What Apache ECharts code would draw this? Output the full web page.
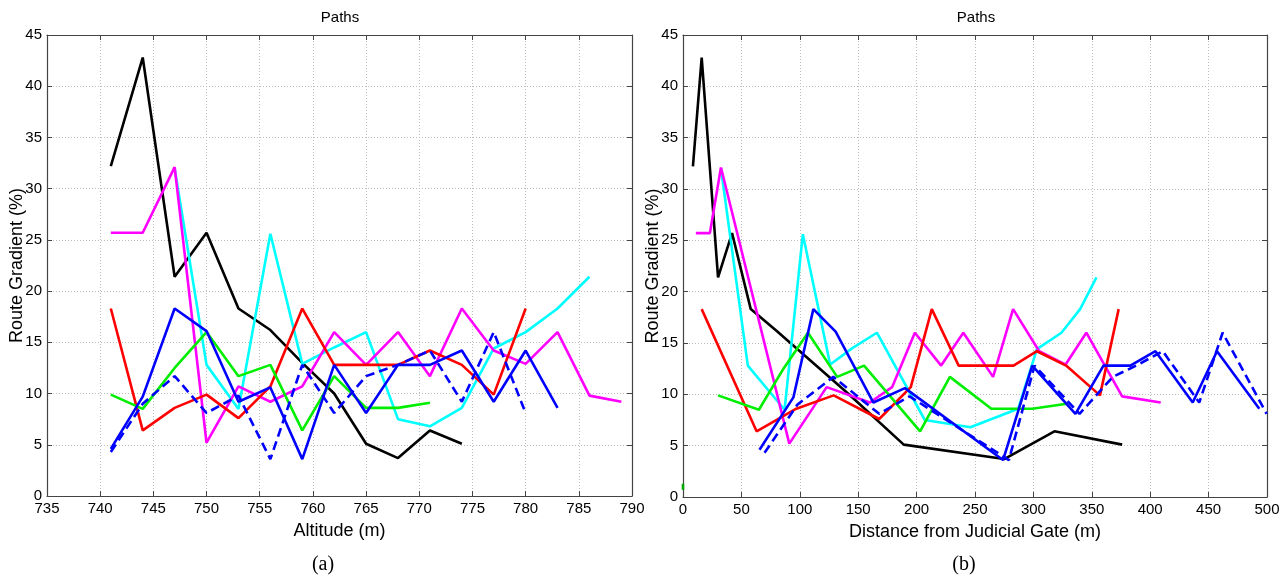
<!DOCTYPE html>
<html><head><meta charset="utf-8">
<script src="https://cdn.jsdelivr.net/npm/echarts@6/dist/echarts.min.js"></script>
<style>html,body{margin:0;padding:0;background:#fff}#c{width:1283px;height:579px}</style>
</head><body><div id="c"></div>
<script>
// ---- data ----
const panelTitle = 'Paths';
const yAxisName = 'Route Gradient (%)';
const xNameA = 'Altitude (m)';
const xNameB = 'Distance from Judicial Gate (m)';
const captionA = '(a)';
const captionB = '(b)';

const blackAlt  = [741,744,747,750,753,756,759,762,765,768,771,774];
const blackDist = [8.5,16,30,42,58,80,112,142,189,275,318,376];
const blackGrad = [32.2,42.8,21.4,25.7,18.3,16.2,13.0,10.0,5.1,3.7,6.4,5.1];

const magentaAlt  = [741,744,747,750,753,756,759,762,765,768,771,774,777,780,783,786,789];
const magentaDist = [11,23,32.5,91,123,160,179,198.5,221,240,265.5,282.6,305,327.6,345.3,376,409];
const magentaGrad = [25.7,25.7,32.1,5.2,10.7,9.2,10.7,16.0,12.8,16.0,11.7,18.3,14.2,12.9,16.0,9.8,9.2];

const cyanAlt  = [747,750,753,756,759,762,765,768,771,774,777,780,783,786];
const cyanDist = [32.5,55.5,87,102.6,126,145,166,207,246,287,303,324,340,354];
const cyanGrad = [32.0,12.8,8.5,25.6,12.9,14.5,16.0,7.5,6.8,8.6,14.4,16.0,18.3,21.4];

const redAlt  = [741,744,747,750,753,756,759,762,765,768,771,774,777,780];
const redDist = [16,63,97,129,168,195,213,236,260,283,303,328,357,373];
const redGrad = [18.3,6.4,8.6,9.9,7.6,10.7,18.3,12.8,12.8,12.8,14.2,12.8,9.9,18.3];

const greenAlt  = [741,744,747,750,753,756,759,762,765,768,771];
const greenDist = [30,65,86,107,132,155,203,228.5,264,299,330];
const greenGrad = [9.9,8.5,12.5,16.0,11.7,12.8,6.4,11.7,8.6,8.6,9.1];
const greenStubDist = [0,0];
const greenStubGrad = [0.7,1.3];

const blueAlt  = [741,744,747,750,753,756,759,762,765,768,771,774,777,780,783];
const blueDist = [65.5,94.5,111.6,130.7,163,190,274,299,336,360,383,404.5,436.4,457.2,493.4];
const blueGrad = [4.6,9.7,18.3,16.1,9.2,10.6,3.6,12.8,8.1,12.8,12.8,14.2,9.2,14.2,8.6];

const blueDashAlt  = [741,744,747,750,753,756,759,762,765,768,771,774,777,780];
const blueDashDist = [69.8,98,128.7,168,194,279,301,339.5,368,388,410.8,442,462,499.7];
const blueDashGrad = [4.3,9.0,11.7,8.1,9.8,3.6,12.8,8.1,11.7,12.8,14.2,9.2,16.0,8.1];

const altRange = [735, 790, 5];
const distRange = [0, 500, 50];
const gradRange = [0, 45, 5];

// ---- chart ----
const FONT = 'Liberation Sans, Arial, sans-serif';
function pairs(xs, ys){ return xs.map((x,i)=>[x, ys[i]]); }
function line(xs, ys, color, axis, dashed){
  return {type:'line', xAxisIndex: axis, yAxisIndex: axis, data: pairs(xs, ys),
    showSymbol:false, symbol:'none', animation:false, silent:true,
    lineStyle:{color:color, width:2.6, type: dashed ? [9,5] : 'solid'}};
}
const gridLine = {show:true, lineStyle:{color:'#bdbdbd', type:[1,2], width:1}};
function xAx(gi, r, name, primary){
  return {type:'value', gridIndex: gi, min:r[0], max:r[1], interval:r[2],
    position: primary ? 'bottom' : 'top',
    name: primary ? name : '', nameLocation:'middle', nameGap: 26,
    nameTextStyle:{fontFamily:FONT, fontSize:18, color:'#000'},
    axisLine:{show:true, onZero:false, lineStyle:{color:'#444', width:1.2}},
    axisTick:{show:true, inside:true, length:5, lineStyle:{color:'#444'}},
    axisLabel:{show: primary, fontFamily:FONT, fontSize:15, color:'#000', margin:5},
    splitLine: primary ? gridLine : {show:false}};
}
function yAx(gi, r, primary){
  return {type:'value', gridIndex: gi, min:r[0], max:r[1], interval:r[2],
    position: primary ? 'left' : 'right',
    name: primary ? yAxisName : '', nameLocation:'middle', nameGap: 21,
    nameMoveOverlap:false,
    nameTextStyle:{fontFamily:FONT, fontSize:18, color:'#000'},
    axisLine:{show:true, onZero:false, lineStyle:{color:'#444', width:1.2}},
    axisTick:{show:true, inside:true, length:5, lineStyle:{color:'#444'}},
    axisLabel:{show: primary, fontFamily:FONT, fontSize:15, color:'#000', margin:5},
    splitLine: primary ? gridLine : {show:false}};
}
function txt(t, x, y, size, weight, family){
  return {type:'text', x:x, y:y, silent:true, style:{text:t, x:0, y:0, fill:'#000',
    textAlign:'center', textVerticalAlign:'middle', align:'center', verticalAlign:'middle',
    fontSize:size, fontWeight:weight, fontFamily:family}};
}
const chart = echarts.init(document.getElementById('c'), null, {renderer:'canvas'});
chart.setOption({
  animation:false,
  backgroundColor:'#fff',
  grid:[{left:47, top:35, width:585, height:461},
        {left:683, top:35, width:584, height:462}],
  xAxis:[xAx(0, altRange, xNameA, true), xAx(0, altRange, '', false),
         xAx(1, distRange, xNameB, true), xAx(1, distRange, '', false)],
  yAxis:[yAx(0, gradRange, true), yAx(0, gradRange, false),
         yAx(1, gradRange, true), yAx(1, gradRange, false)],
  graphic:[
    txt(panelTitle, 340, 18, 15, 'normal', FONT),
    txt(panelTitle, 976, 18, 15, 'normal', FONT),
    txt(captionA, 323, 565, 20, 'normal', 'Liberation Serif, serif'),
    txt(captionB, 964, 565, 20, 'normal', 'Liberation Serif, serif')
  ],
  series:[
    line(blackAlt, blackGrad, '#000000', 0),
    line(cyanAlt, cyanGrad, '#00ffff', 0),
    line(magentaAlt, magentaGrad, '#ff00ff', 0),
    line(redAlt, redGrad, '#ff0000', 0),
    line(greenAlt, greenGrad, '#00ee00', 0),
    line(blueAlt, blueGrad, '#0000ff', 0),
    line(blueDashAlt, blueDashGrad, '#0000ff', 0, true),
    line(blackDist, blackGrad, '#000000', 2),
    line(cyanDist, cyanGrad, '#00ffff', 2),
    line(magentaDist, magentaGrad, '#ff00ff', 2),
    line(redDist, redGrad, '#ff0000', 2),
    line(greenDist, greenGrad, '#00ee00', 2),
    line(greenStubDist, greenStubGrad, '#00aa00', 2),
    line(blueDist, blueGrad, '#0000ff', 2),
    line(blueDashDist, blueDashGrad, '#0000ff', 2, true)
  ]
});
</script></body></html>
